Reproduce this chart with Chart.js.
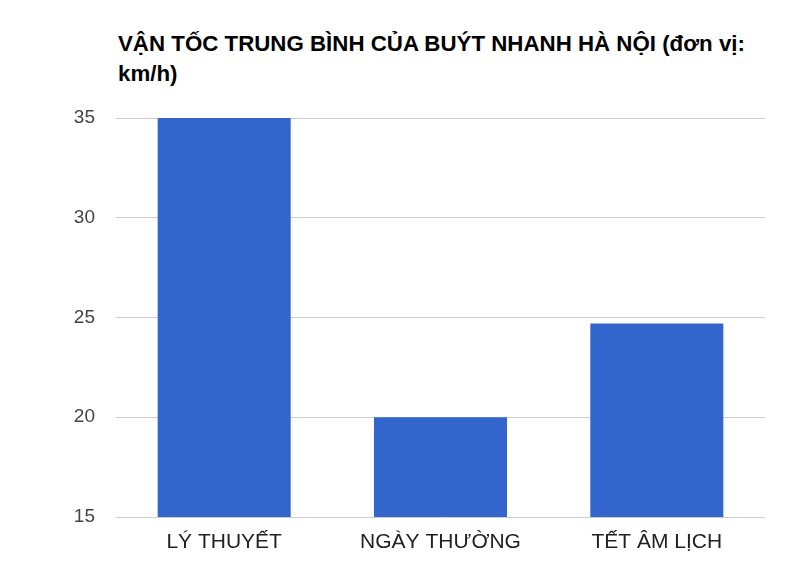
<!DOCTYPE html>
<html>
<head>
<meta charset="utf-8">
<script src="https://cdn.jsdelivr.net/npm/chart.js@4"></script>
<style>
  body { margin: 0; background: #fff; }
  #wrap { position: relative; width: 785px; height: 585px; }
  #title {
    position: absolute; left: 118px; top: 29px; width: 655px;
    font-family: "Liberation Sans", Arial, sans-serif; font-weight: bold;
    font-size: 22.3px; line-height: 30px; color: #000;
  }
  canvas { position: absolute; left: 0; top: 0; }
</style>
</head>
<body>
<div id="wrap">
  <div id="title">VẬN TỐC TRUNG BÌNH CỦA BUÝT NHANH HÀ NỘI (đơn vị: km/h)</div>
  <canvas id="chart" width="785" height="585"></canvas>
</div>
<script>
// dữ liệu biểu đồ
const categories = ['LÝ THUYẾT', 'NGÀY THƯỜNG', 'TẾT ÂM LỊCH'];
const speeds = [35, 20, 24.7];
const yTicks = [15, 20, 25, 30, 35];

const ctx = document.getElementById('chart').getContext('2d');
new Chart(ctx, {
    type: 'bar',
    data: {
        labels: categories,
        datasets: [{
            data: speeds,
            backgroundColor: '#3366cc',
            categoryPercentage: 0.615,
            barPercentage: 1
        }]
    },
    options: {
        responsive: false,
        animation: false,
        layout: { padding: { top: 118, right: 20, left: 0, bottom: 0 } },
        plugins: { legend: { display: false }, tooltip: { enabled: false } },
        scales: {
            x: {
                grid: { display: false },
                border: { display: false },
                ticks: {
                    padding: 5,
                    color: '#222',
                    font: { family: 'Liberation Sans', size: 21 }
                },
                afterFit: s => { s.height = 68; }
            },
            y: {
                min: yTicks[0],
                max: yTicks[yTicks.length - 1],
                afterBuildTicks: s => { s.ticks = yTicks.map(v => ({ value: v })); },
                grid: { color: '#cccccc', drawTicks: false },
                border: { display: false },
                ticks: {
                    padding: 21,
                    color: '#444',
                    font: { family: 'Liberation Sans', size: 19 }
                },
                afterFit: s => { s.width = 116; }
            }
        }
    }
});
</script>
</body>
</html>
